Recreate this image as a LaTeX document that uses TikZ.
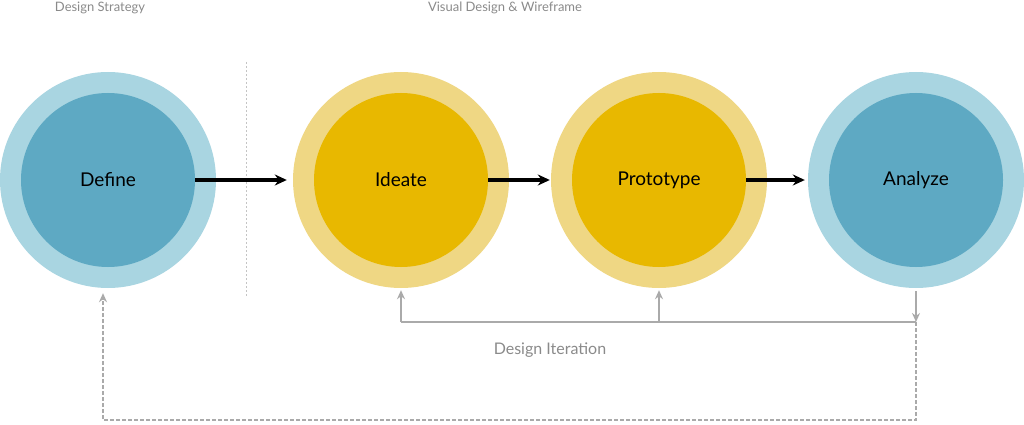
\documentclass[tikz,border=0pt]{standalone}
\usepackage{fontspec}
\setmainfont{Lato}
\usetikzlibrary{arrows.meta}
\definecolor{blueout}{HTML}{A9D5E1}
\definecolor{bluein}{HTML}{5EA9C3}
\definecolor{goldout}{HTML}{EFD784}
\definecolor{goldin}{HTML}{E8B800}
\definecolor{greyline}{HTML}{AAAAAA}
\definecolor{greytext}{HTML}{8A8A8A}
\tikzset{
  outer/.style={circle, minimum size=216pt, inner sep=0pt},
  inner/.style={circle, minimum size=174pt, inner sep=0pt, font=\fontsize{19pt}{22pt}\selectfont},
  flow/.style={-{Stealth[length=12pt,width=11pt]}, line width=3.2pt},
  backflow/.style={greyline, line width=1.5pt, -{Stealth[length=9pt,width=8pt]}},
  phase/.style={greytext, font=\fontsize{13pt}{15pt}\selectfont}
}
\begin{document}
\begin{tikzpicture}[x=1pt, y=-1pt]
    \useasboundingbox (0,0) rectangle (1024,425);

    % Circles
    \node[outer, fill=blueout] (defo) at (108,180) {};
    \node[inner, fill=bluein] (define) at (108,180) {Define};
    \node[outer, fill=goldout] (ideo) at (401,180) {};
    \node[inner, fill=goldin] (ideate) at (401,180) {Ideate};
    \node[outer, fill=goldout] (proto) at (659,180) {};
    \node[inner, fill=goldin] (prototype) at (659,180) {Prototype};
    \node[outer, fill=blueout] (anao) at (916,180) {};
    \node[inner, fill=bluein] (analyze) at (916,180) {Analyze};

    % Phases
    \node[phase] (strategy) at (100,8) {Design Strategy};
    \node[phase] (visual) at (505,8) {Visual Design \& Wireframe};
    \draw[greyline!70, dash pattern=on 2pt off 2pt, line width=0.8pt] (246,62) -- (246,297);

    % Main flow
    \draw[flow] (define.east) -- ([xshift=-6pt]ideo.west);
    \draw[flow] (ideate.east) -- ([xshift=-1pt]proto.west);
    \draw[flow] (prototype.east) -- ([xshift=-3pt]anao.west);

    % Iteration
    \coordinate (split) at (916,322);
    \coordinate (ideb) at (401,322);
    \coordinate (protob) at (659,322);
    \draw[backflow] ([yshift=-3pt]anao.south) -- (split);
    \draw[greyline, line width=1.5pt] (split) -- (ideb);
    \draw[backflow] (ideb) -- ([yshift=-2pt]ideo.south);
    \draw[backflow] (protob) -- ([yshift=-2pt]proto.south);
    \node[greytext, font=\fontsize{16pt}{18pt}\selectfont] (iteration) at (550,350) {Design Iteration};

    % Back to strategy
    \coordinate (c1) at (916,420);
    \coordinate (c2) at (103,420);
    \draw[backflow, dash pattern=on 4pt off 2pt] (split) -- (c1) -- (c2) -- ([xshift=-5pt,yshift=-5pt]defo.south);
\end{tikzpicture}
\end{document}
